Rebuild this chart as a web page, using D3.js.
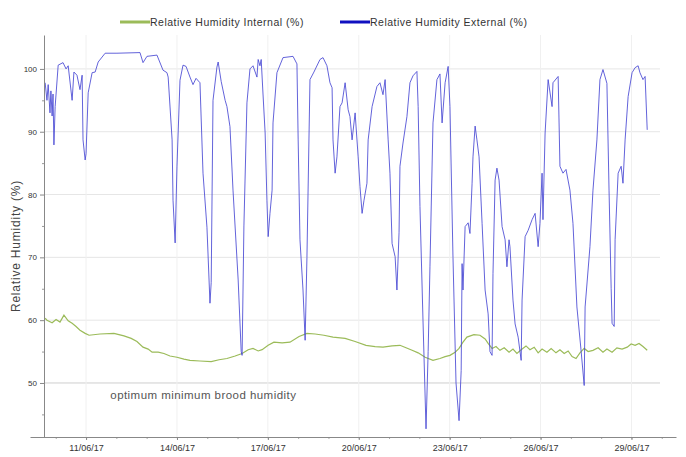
<!DOCTYPE html>
<html>
<head>
<meta charset="utf-8">
<script src="https://cdn.jsdelivr.net/npm/d3@7"></script>
<style>
  body { margin: 0; background: #fff; }
  text { font-family: "Liberation Sans", Arial, sans-serif; fill: #444; }
</style>
</head>
<body>
<div id="wrapper"></div>
<script>
// series names
const seriesNames = ["Relative Humidity Internal (%)", "Relative Humidity External (%)"];
const yTicks = [50, 60, 70, 80, 90, 100];
const xTickLabels = ["11/06/17", "14/06/17", "17/06/17", "20/06/17", "23/06/17", "26/06/17", "29/06/17"];

// readings as [day of June 2017 (decimal), RH %]
const externalRH = [
  [9.65, 97.8], [9.71, 95], [9.75, 97.5], [9.81, 93], [9.84, 96.5], [9.88, 92.5], [9.91, 96],
  [9.94, 87.9], [9.98, 94], [10.08, 100.6], [10.24, 101], [10.34, 100], [10.41, 100.5], [10.54, 95],
  [10.60, 99.5], [10.70, 99], [10.80, 96.7], [10.87, 99], [10.90, 88.7], [10.97, 85.5], [11.00, 86.5],
  [11.07, 96.2], [11.20, 99.4], [11.30, 99.5], [11.40, 101.1], [11.63, 102.5], [12.02, 102.5],
  [12.78, 102.6], [12.88, 101], [13.01, 102], [13.34, 102.2], [13.54, 99.8], [13.67, 99.4],
  [13.71, 98.7], [13.84, 88.7], [13.87, 79.1], [13.94, 72.3], [14.00, 84.4], [14.10, 98.2],
  [14.20, 100.6], [14.30, 100.4], [14.43, 98.7], [14.53, 97.5], [14.63, 98.5], [14.76, 97.8],
  [14.86, 83.4], [14.99, 74.8], [15.09, 62.7], [15.13, 66], [15.19, 95], [15.32, 100.3],
  [15.36, 101.1], [15.46, 98], [15.59, 95], [15.65, 94], [15.75, 90.8], [15.85, 80.7],
  [16.02, 66.4], [16.12, 55], [16.15, 54.4], [16.21, 75], [16.31, 94.6], [16.41, 100],
  [16.51, 100.5], [16.64, 98.7], [16.68, 101.5], [16.74, 100.5], [16.78, 101.5], [16.84, 96],
  [16.91, 89.8], [16.97, 79], [17.01, 73.3], [17.07, 77], [17.14, 80.7], [17.17, 91.4],
  [17.30, 99.4], [17.50, 101.8], [17.83, 102], [17.96, 100.8], [18.00, 88.7], [18.06, 72.8],
  [18.16, 64.8], [18.23, 56.8], [18.29, 70], [18.39, 98.3], [18.52, 99.5], [18.72, 101.5],
  [18.82, 101.8], [18.95, 100.5], [19.05, 97.8], [19.12, 97], [19.15, 88.7], [19.22, 83.4],
  [19.28, 86], [19.38, 94], [19.45, 94.6], [19.55, 97.8], [19.65, 93.5], [19.71, 92.4],
  [19.78, 88.7], [19.88, 93], [19.98, 86], [20.04, 81.3], [20.11, 77], [20.17, 79],
  [20.27, 81.8], [20.31, 88.7], [20.44, 94], [20.60, 97.2], [20.70, 97.8], [20.80, 95.9],
  [20.87, 98.3], [20.97, 88.7], [21.03, 83.4], [21.10, 72.2], [21.20, 70.1], [21.26, 64.8],
  [21.33, 74], [21.36, 84.5], [21.46, 88.2], [21.59, 92.4], [21.69, 97.8], [21.79, 98.9],
  [21.92, 99.6], [21.96, 94], [22.02, 78.1], [22.12, 60], [22.22, 42.7], [22.29, 55],
  [22.35, 68.5], [22.45, 91.4], [22.58, 98.3], [22.68, 99.2], [22.75, 91.4], [22.85, 97.8],
  [22.95, 100.4], [23.01, 94], [23.11, 70], [23.21, 50], [23.31, 44], [23.38, 52],
  [23.41, 69], [23.44, 64.8], [23.51, 74.9], [23.61, 75.5], [23.67, 73.8], [23.74, 81.8],
  [23.77, 86], [23.84, 90.9], [23.90, 88.7], [23.97, 86], [24.07, 75.4], [24.17, 64.8],
  [24.27, 61], [24.33, 55], [24.40, 54.4], [24.43, 67.4], [24.50, 82.3], [24.56, 84.2],
  [24.63, 82.3], [24.73, 74.9], [24.83, 72.8], [24.89, 68.5], [24.96, 72.8], [24.99, 71.7],
  [25.09, 63.2], [25.16, 59.4], [25.26, 57.3], [25.36, 53.6], [25.39, 63.2], [25.49, 73.3],
  [25.59, 74.3], [25.72, 76], [25.82, 77], [25.92, 71.7], [25.98, 75.4], [26.05, 83.4],
  [26.08, 76], [26.15, 89.8], [26.25, 98.3], [26.38, 94], [26.41, 97.8], [26.58, 98.8],
  [26.64, 84.5], [26.74, 83.4], [26.84, 84], [26.97, 80.7], [27.07, 75.4], [27.20, 62.1],
  [27.34, 55], [27.44, 49.6], [27.47, 62.1], [27.63, 71.7], [27.73, 80.7], [27.86, 88.7],
  [27.96, 98.3], [28.06, 99.9], [28.19, 97.7], [28.26, 80.7], [28.33, 65], [28.36, 59.5],
  [28.43, 59], [28.46, 72.8], [28.56, 83.4], [28.66, 84.5], [28.72, 81.8], [28.79, 88.7],
  [28.89, 95.6], [29.02, 99.4], [29.12, 100.2], [29.22, 100.5], [29.28, 99.4], [29.38, 98.3],
  [29.45, 98.8], [29.52, 90.3]
];

const internalRH = [
  [9.65, 60.3], [9.71, 60.0], [9.88, 59.6], [10.01, 60.1], [10.14, 59.7], [10.27, 60.8],
  [10.41, 59.9], [10.54, 59.5], [10.67, 59.0], [10.80, 58.4], [10.97, 57.9], [11.10, 57.6],
  [11.46, 57.8], [11.92, 57.9], [12.25, 57.5], [12.49, 57.1], [12.68, 56.6], [12.88, 55.7],
  [13.05, 55.4], [13.18, 54.9], [13.38, 54.9], [13.57, 54.7], [13.77, 54.3], [14.00, 54.1],
  [14.23, 53.8], [14.43, 53.6], [14.76, 53.5], [15.13, 53.4], [15.39, 53.7], [15.65, 53.9],
  [15.92, 54.3], [16.15, 54.7], [16.35, 55.3], [16.51, 55.5], [16.68, 55.1], [16.81, 55.3],
  [17.01, 56.0], [17.20, 56.5], [17.47, 56.4], [17.73, 56.5], [18.03, 57.4], [18.29, 57.9],
  [18.56, 57.8], [18.85, 57.6], [19.15, 57.3], [19.55, 57.1], [19.88, 56.6], [20.24, 56.0],
  [20.54, 55.8], [20.80, 55.7], [21.10, 55.9], [21.36, 56.0], [21.56, 55.6], [21.76, 55.2],
  [21.96, 54.8], [22.19, 54.1], [22.45, 53.6], [22.68, 53.9], [22.85, 54.2], [23.01, 54.4],
  [23.18, 54.9], [23.31, 55.5], [23.44, 56.5], [23.57, 57.3], [23.80, 57.7], [24.00, 57.6],
  [24.17, 57.0], [24.27, 56.3], [24.40, 55.5], [24.53, 55.8], [24.66, 55.2], [24.80, 55.6],
  [24.96, 54.9], [25.09, 55.4], [25.22, 54.7], [25.36, 55.3], [25.52, 55.9], [25.65, 55.3],
  [25.79, 55.7], [25.92, 54.8], [26.05, 55.4], [26.21, 54.9], [26.35, 55.5], [26.51, 54.8],
  [26.64, 55.3], [26.78, 54.7], [26.91, 55.1], [27.04, 54.2], [27.17, 53.9], [27.30, 54.8],
  [27.44, 55.5], [27.57, 55.0], [27.73, 55.2], [27.90, 55.6], [28.06, 54.9], [28.19, 55.4],
  [28.36, 54.9], [28.52, 55.6], [28.69, 55.4], [28.86, 55.7], [28.99, 56.2], [29.12, 56.0],
  [29.25, 56.3], [29.38, 55.8], [29.52, 55.2]
];

const thresholdRH = 50;
const thresholdLabel = "optimum minimum brood humidity";

function drawChart() {
  const width = 686;
  const height = 457;
  const colors = { internal: "#9bbb59", external: "#4848d4", legendExternal: "#1010c0" };

  const juneDay = d => new Date(Date.UTC(2017, 5, 1) + (d - 1) * 864e5);
  const parseTick = d3.utcParse("%d/%m/%y");
  const xAccessor = d => juneDay(d[0]);
  const yAccessor = d => d[1];

  const svg = d3.select("#wrapper")
    .append("svg")
      .attr("width", width)
      .attr("height", height);

  // scales
  const plotLeft = 44, plotRight = 660, plotTop = 35, plotBottom = 437;
  const xScale = d3.scaleUtc()
    .domain([juneDay(9.15), juneDay(30.47)])
    .range([30, 676]);
  const yScale = d3.scaleLinear()
    .domain([41.4, 105.4])
    .range([plotBottom, plotTop]);

  // gridlines
  const grid = svg.append("g").attr("class", "grid");
  grid.selectAll(".hgrid")
    .data(yTicks)
    .join("line")
      .attr("x1", plotLeft)
      .attr("x2", plotRight)
      .attr("y1", d => yScale(d))
      .attr("y2", d => yScale(d))
      .attr("stroke", d => d === thresholdRH ? "#cfcfcf" : "#e6e6e6")
      .attr("stroke-width", 1);
  grid.selectAll(".vgrid")
    .data(xTickLabels.map(parseTick))
    .join("line")
      .attr("x1", d => xScale(d))
      .attr("x2", d => xScale(d))
      .attr("y1", plotTop)
      .attr("y2", plotBottom)
      .attr("stroke", "#f0f0f0");

  // lines
  const lineGenerator = d3.line()
    .x(d => xScale(xAccessor(d)))
    .y(d => yScale(yAccessor(d)));

  svg.append("path")
    .attr("d", lineGenerator(internalRH))
    .attr("fill", "none")
    .attr("stroke", colors.internal)
    .attr("stroke-width", 1.2);

  svg.append("path")
    .attr("d", lineGenerator(externalRH))
    .attr("fill", "none")
    .attr("stroke", colors.external)
    .attr("stroke-opacity", 0.85)
    .attr("stroke-width", 1);

  // axes
  const xAxis = svg.append("g")
    .attr("transform", `translate(0, ${plotBottom})`);
  xAxis.append("g")
    .call(d3.axisBottom(xScale).tickValues(d3.utcDay.range(juneDay(10), juneDay(30.2))).tickSize(2).tickFormat(""))
    .call(g => g.select(".domain").remove())
    .call(g => g.selectAll("line").attr("stroke", "#aaa"));
  xAxis.append("g")
    .call(d3.axisBottom(xScale)
      .tickValues(xTickLabels.map(parseTick))
      .tickFormat(d3.utcFormat("%d/%m/%y"))
      .tickSize(3)
      .tickSizeOuter(0))
    .call(g => g.select(".domain").attr("stroke", "#888"))
    .call(g => g.selectAll(".tick line").attr("stroke", "#888"))
    .call(g => g.selectAll("text").attr("font-size", 9).attr("dy", "0.9em").style("fill", "#333"));

  const yAxis = svg.append("g")
    .attr("transform", `translate(${plotLeft}, 0)`);
  yAxis.append("g")
    .call(d3.axisLeft(yScale).tickValues(d3.range(45, 105, 10)).tickSize(2).tickFormat(""))
    .call(g => g.select(".domain").remove())
    .call(g => g.selectAll("line").attr("stroke", "#999"));
  yAxis.append("g")
    .call(d3.axisLeft(yScale).tickValues(yTicks).tickSize(4).tickSizeOuter(0))
    .call(g => g.select(".domain").attr("stroke", "#888"))
    .call(g => g.selectAll(".tick line").attr("stroke", "#888"))
    .call(g => g.selectAll("text").attr("font-size", 8).style("fill", "#333"));

  // axis title
  svg.append("text")
    .attr("transform", `translate(20, ${(plotTop + plotBottom) / 2 + 10}) rotate(-90)`)
    .attr("text-anchor", "middle")
    .attr("font-size", 12)
    .attr("letter-spacing", 0.8)
    .text("Relative Humidity (%)");

  // threshold annotation
  svg.append("text")
    .attr("x", xScale(juneDay(11.8)))
    .attr("y", yScale(thresholdRH) + 16)
    .attr("font-size", 11.5)
    .attr("letter-spacing", 0.45)
    .style("fill", "#555")
    .text(thresholdLabel);

  // legend
  const legend = svg.append("g").attr("transform", "translate(0, 22)");
  const legendItems = [
    { name: seriesNames[0], color: colors.internal, x: 120 },
    { name: seriesNames[1], color: colors.legendExternal, x: 340 },
  ];
  legendItems.forEach(item => {
    legend.append("line")
      .attr("x1", item.x).attr("x2", item.x + 30)
      .attr("y1", 0).attr("y2", 0)
      .attr("stroke", item.color)
      .attr("stroke-width", 3);
    legend.append("text")
      .attr("x", item.x + 30)
      .attr("y", 3.5)
      .attr("font-size", 10.5)
      .attr("letter-spacing", 0.5)
      .style("fill", "#333")
      .text(item.name);
  });
}
drawChart();
</script>
</body>
</html>
